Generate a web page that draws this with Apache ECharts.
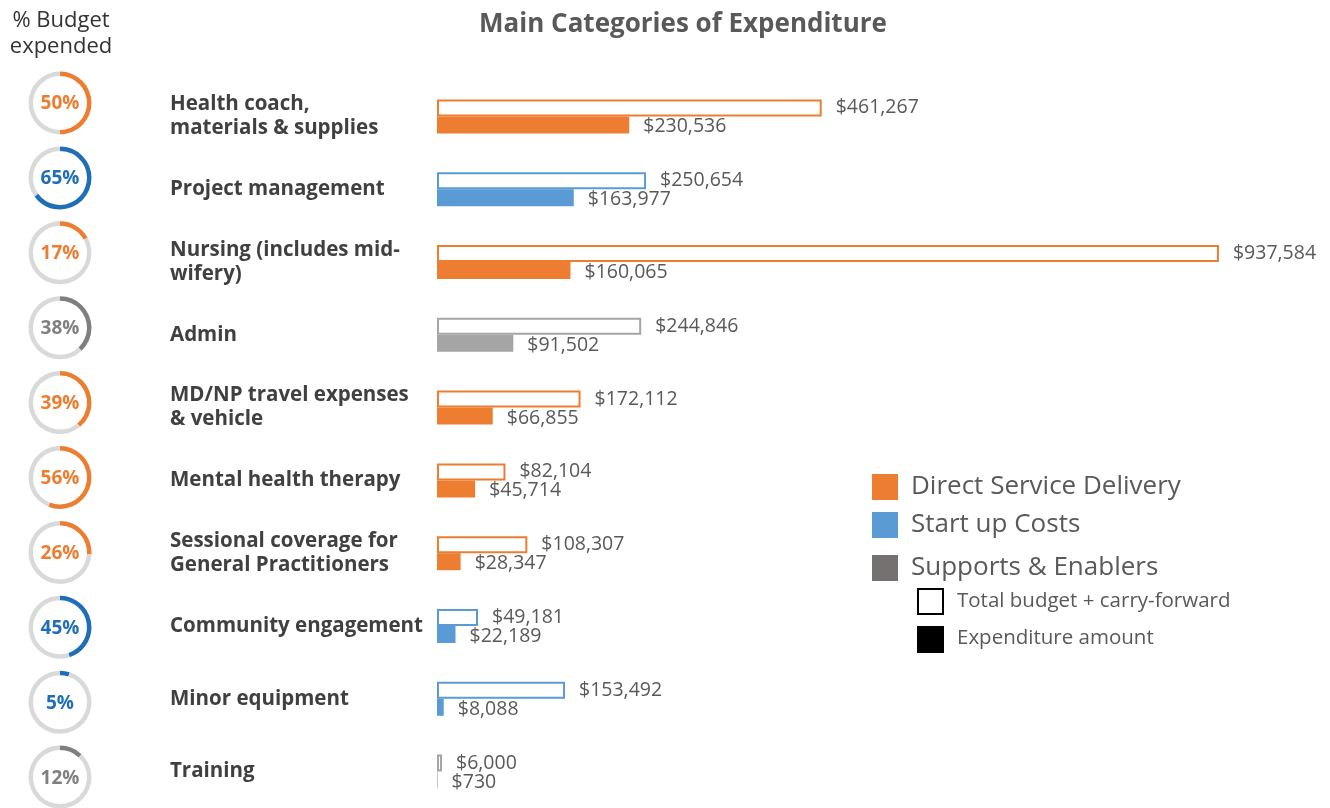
<!DOCTYPE html>
<html><head><meta charset="utf-8">
<script src="https://cdn.jsdelivr.net/npm/echarts@6/dist/echarts.min.js"></script>
<style>html,body{margin:0;padding:0;background:#fff}#c{width:1330px;height:808px}</style>
</head><body><div id="c"></div>
<script>
const categories = ['Health coach,\nmaterials & supplies','Project management','Nursing (includes mid-\nwifery)','Admin','MD/NP travel expenses\n& vehicle','Mental health therapy','Sessional coverage for\nGeneral Practitioners','Community engagement','Minor equipment','Training'];
const groups = ['Direct Service Delivery','Start up Costs','Direct Service Delivery','Supports & Enablers','Direct Service Delivery','Direct Service Delivery','Direct Service Delivery','Start up Costs','Start up Costs','Supports & Enablers'];
const budget = [461267,250654,937584,244846,172112,82104,108307,49181,153492,6000];
const expenditure = [230536,163977,160065,91502,66855,45714,28347,22189,8088,730];
const pctExpended = [50,65,17,38,39,56,26,45,5,12];
const groupNames = ['Direct Service Delivery','Start up Costs','Supports & Enablers'];

const barColor = {'Direct Service Delivery':'#ED7D31','Start up Costs':'#5B9BD5','Supports & Enablers':'#A5A5A5'};
const ringColor = {'Direct Service Delivery':'#ED7D31','Start up Costs':'#1F6FB8','Supports & Enablers':'#7F7F7F'};
const legendColor = {'Direct Service Delivery':'#ED7D31','Start up Costs':'#5B9BD5','Supports & Enablers':'#767171'};
const FONT = '"Open Sans", "Noto Sans", sans-serif';
const money = v => '$' + v.toLocaleString('en-US');

const chart = echarts.init(document.getElementById('c'));

const series = [
  {
    type:'bar', name:'Total budget + carry-forward', barWidth:17, barGap:'0%',
    data: budget.map((v,i)=>({value:v, itemStyle:{color:'#fff', borderColor:barColor[groups[i]], borderWidth:2}})),
    label:{show:true, position:'right', distance:14, formatter:p=>money(p.value), fontFamily:FONT, fontSize:19.5, color:'#595959'},
    silent:true
  },
  {
    type:'bar', name:'Expenditure amount', barWidth:17,
    data: expenditure.map((v,i)=>({value:v, itemStyle:{color:barColor[groups[i]]}})),
    label:{show:true, position:'right', distance:14, offset:[0,2], formatter:p=>money(p.value), fontFamily:FONT, fontSize:19.5, color:'#595959'},
    silent:true
  }
];

pctExpended.forEach((p,i)=>{
  const col = ringColor[groups[i]];
  series.push({
    type:'pie', silent:true, radius:[27,31.5], center:[60, 103 + i*74.9],
    startAngle:90, clockwise:true, labelLine:{show:false},
    emphasis:{disabled:true},
    data:[
      {value:p, itemStyle:{color:col}, label:{show:true, position:'center', formatter:p+'%', fontFamily:FONT, fontSize:19, fontWeight:'bold', color:col, offset:[0,1]}},
      {value:100-p, itemStyle:{color:'#D9D9D9'}, label:{show:false}}
    ]
  });
});

const legendGraphics = [];
const legendY = [487, 525, 568];
groupNames.forEach((g,k)=>{
  legendGraphics.push({type:'rect', x:872, y:legendY[k]-13, shape:{width:26,height:26}, style:{fill:legendColor[g]}});
  legendGraphics.push({type:'text', x:911, y:legendY[k], style:{text:g, font:'26px '+FONT, fill:'#595959', textVerticalAlign:'middle'}});
});
legendGraphics.push({type:'rect', x:918, y:589, shape:{width:25,height:25}, style:{fill:'#fff', stroke:'#000', lineWidth:2}});
legendGraphics.push({type:'text', x:957, y:601, style:{text:'Total budget + carry-forward', font:'20.5px '+FONT, fill:'#595959', textVerticalAlign:'middle'}});
legendGraphics.push({type:'rect', x:917, y:626, shape:{width:27,height:27}, style:{fill:'#000'}});
legendGraphics.push({type:'text', x:957, y:638, style:{text:'Expenditure amount', font:'20.5px '+FONT, fill:'#595959', textVerticalAlign:'middle'}});
legendGraphics.push({type:'text', x:61, y:8, style:{text:'% Budget\nexpended', font:'22px '+FONT, fill:'#333', textAlign:'center', lineHeight:26}});

chart.setOption({
  animation:false,
  backgroundColor:'#fff',
  title:{text:'Main Categories of Expenditure', left:678, textAlign:'center', top:7, textStyle:{fontFamily:FONT, fontSize:26, fontWeight:'bold', color:'#595959'}},
  grid:{left:437, right:59, top:80, bottom:0},
  xAxis:{type:'value', min:0, max:1000000, show:false},
  yAxis:{type:'category', data:categories, inverse:true,
    axisLine:{show:false}, axisTick:{show:false},
    axisLabel:{align:'left', margin:267, fontFamily:FONT, fontSize:20.5, fontWeight:'bold', color:'#404040', lineHeight:24}},
  graphic:legendGraphics,
  series:series
});
</script></body></html>
